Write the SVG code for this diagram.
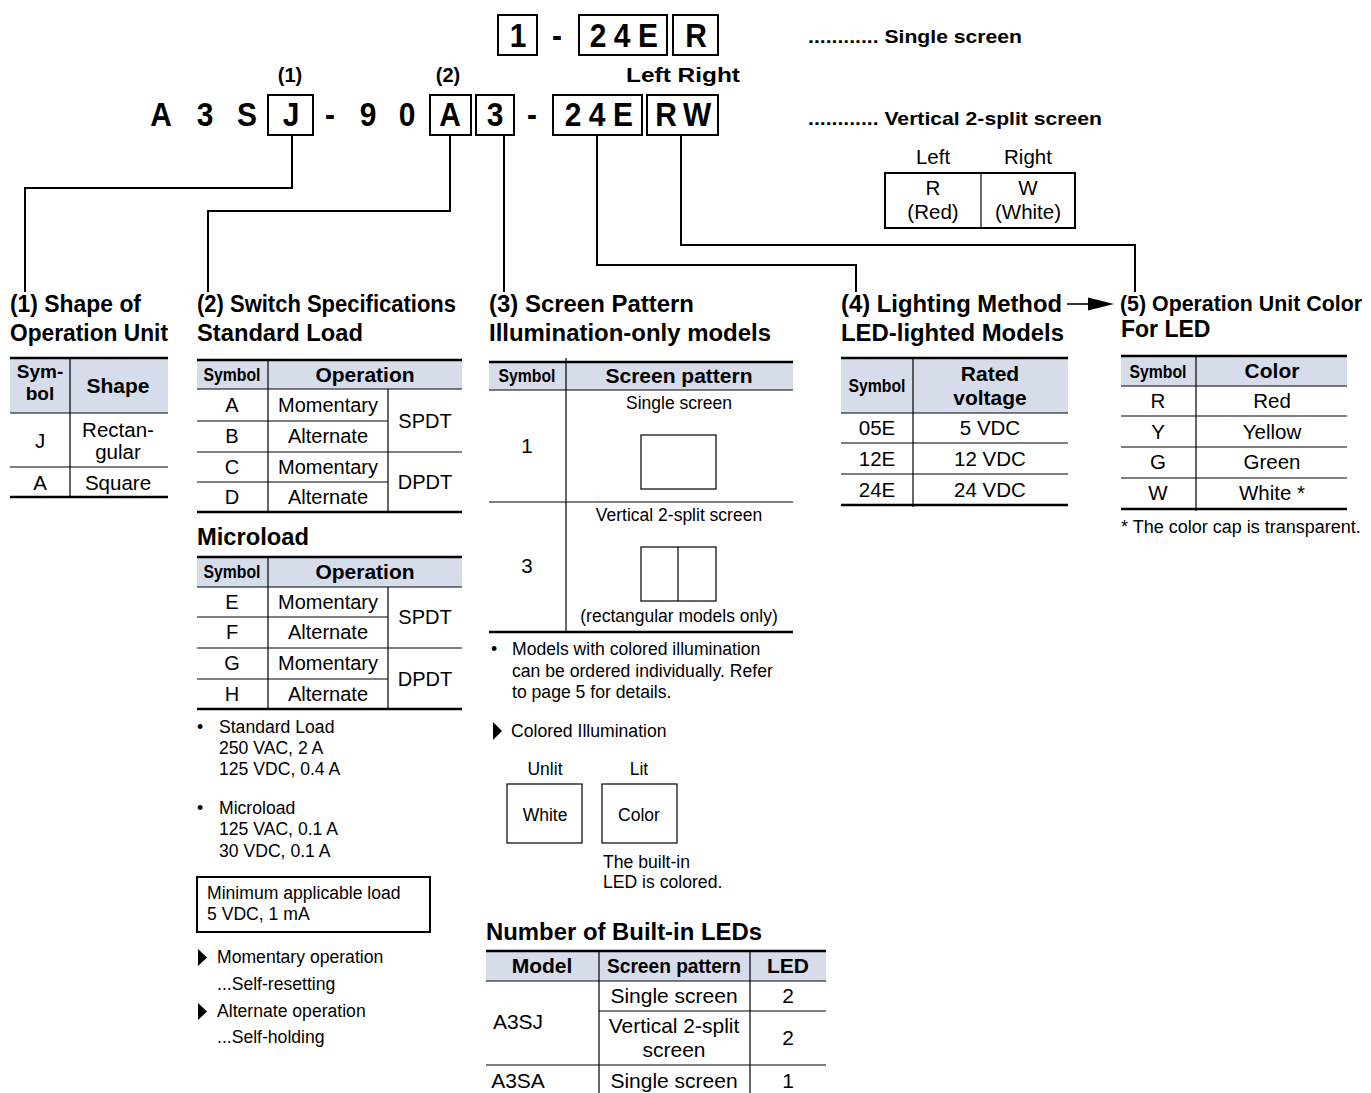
<svg xmlns="http://www.w3.org/2000/svg" width="1371" height="1093" viewBox="0 0 1371 1093">
<style>
text{font-family:"Liberation Sans",Arial,sans-serif;fill:#000}
.t{font-size:17.6px}
.b{font-weight:bold}
.h{font-size:23px;font-weight:bold}
.code{font-size:34px;font-weight:bold;text-anchor:middle}
.lab{font-size:20px;font-weight:bold;text-anchor:middle}
.nb{font-size:19px;font-weight:bold;text-anchor:middle}
.hb{font-size:21px;font-weight:bold;text-anchor:middle}
.box{fill:none;stroke:#000;stroke-width:2}
.thin{fill:none;stroke:#000;stroke-width:1.2}
.thick{stroke:#000;stroke-width:2.6}
.row{stroke:#000;stroke-width:1.2}
.hdr{fill:#d6dcea}
.con{fill:none;stroke:#000;stroke-width:2}
.t2{font-size:20px;text-anchor:middle}
.t4{font-size:20.5px;text-anchor:middle}
.t3{font-size:17.5px;text-anchor:middle}
.t6{font-size:21px;text-anchor:middle}
</style>

<g id="code-top">
<rect class="box" x="498" y="15" width="39" height="40"/>
<rect class="box" x="579" y="15" width="88" height="40"/>
<rect class="box" x="673" y="15" width="45" height="40"/>
<text class="code" transform="translate(518,47) scale(0.88,1)">1</text>
<text class="code" transform="translate(557,47) scale(0.88,1)">-</text>
<text class="code" transform="translate(598,47) scale(0.88,1)">2</text>
<text class="code" transform="translate(622,47) scale(0.88,1)">4</text>
<text class="code" transform="translate(648,47) scale(0.88,1)">E</text>
<text class="code" transform="translate(696,47) scale(0.88,1)">R</text>
<text class="b" x="808" y="43" style="font-size:19px" textLength="214" lengthAdjust="spacingAndGlyphs">............ Single screen</text>
</g>

<g id="code-main">
<text class="lab" x="290" y="82">(1)</text>
<text class="lab" x="448" y="82">(2)</text>
<text class="b" x="626" y="82" style="font-size:20px" textLength="114" lengthAdjust="spacingAndGlyphs">Left Right</text>
<text class="code" transform="translate(161,126) scale(0.88,1)">A</text>
<text class="code" transform="translate(205,126) scale(0.88,1)">3</text>
<text class="code" transform="translate(247,126) scale(0.88,1)">S</text>
<rect class="box" x="268" y="95" width="45" height="40"/>
<text class="code" transform="translate(291,126) scale(0.88,1)">J</text>
<text class="code" transform="translate(330,126) scale(0.88,1)">-</text>
<text class="code" transform="translate(368,126) scale(0.88,1)">9</text>
<text class="code" transform="translate(407,126) scale(0.88,1)">0</text>
<rect class="box" x="430" y="95" width="41" height="40"/>
<text class="code" transform="translate(450,126) scale(0.88,1)">A</text>
<rect class="box" x="476" y="95" width="38" height="40"/>
<text class="code" transform="translate(495,126) scale(0.88,1)">3</text>
<text class="code" transform="translate(532,126) scale(0.88,1)">-</text>
<rect class="box" x="553" y="95" width="89" height="40"/>
<text class="code" transform="translate(573,126) scale(0.88,1)">2</text>
<text class="code" transform="translate(597,126) scale(0.88,1)">4</text>
<text class="code" transform="translate(623,126) scale(0.88,1)">E</text>
<rect class="box" x="647" y="95" width="71" height="40"/>
<text class="code" transform="translate(666,126) scale(0.88,1)">R</text>
<text class="code" transform="translate(697,126) scale(0.88,1)">W</text>
<text class="b" x="808" y="125" style="font-size:19px" textLength="294" lengthAdjust="spacingAndGlyphs">............ Vertical 2-split screen</text>
</g>

<g id="left-right">
<text class="t4" x="933" y="164">Left</text>
<text class="t4" x="1028" y="164">Right</text>
<rect class="box" x="885" y="173" width="190" height="55"/>
<line class="row" x1="981" y1="173" x2="981" y2="228"/>
<text class="t4" x="933" y="195">R</text>
<text class="t4" x="933" y="219">(Red)</text>
<text class="t4" x="1028" y="195">W</text>
<text class="t4" x="1028" y="219">(White)</text>
</g>

<g id="connectors">
<polyline class="con" points="292,135 292,188 25,188 25,292"/>
<polyline class="con" points="450,135 450,211 208,211 208,292"/>
<polyline class="con" points="504,135 504,292"/>
<polyline class="con" points="597,135 597,265 856,265 856,292"/>
<polyline class="con" points="681,135 681,245 1135,245 1135,292"/>
<line x1="1067" y1="304" x2="1090" y2="304" stroke="#000" stroke-width="1.6"/>
<polygon points="1088,297.5 1114,304 1088,310.5" fill="#000"/>
</g>

<g id="sec1">
<text class="h" x="10" y="312" textLength="131" lengthAdjust="spacingAndGlyphs">(1) Shape of</text>
<text class="h" x="10" y="341" textLength="158" lengthAdjust="spacingAndGlyphs">Operation Unit</text>
<rect class="hdr" x="10" y="358" width="158" height="55"/>
<line class="thick" x1="10" y1="358" x2="168" y2="358"/>
<line class="row" x1="10" y1="413" x2="168" y2="413" stroke-width="1.6"/>
<line class="row" x1="10" y1="467" x2="168" y2="467"/>
<line class="thick" x1="10" y1="497" x2="168" y2="497"/>
<line class="row" x1="70" y1="358" x2="70" y2="497"/>
<text class="nb" x="40" y="378">Sym-</text>
<text class="nb" x="40" y="400">bol</text>
<text class="hb" x="118" y="393">Shape</text>
<text class="t4" x="40" y="448">J</text>
<text class="t4" x="118" y="437">Rectan-</text>
<text class="t4" x="118" y="459">gular</text>
<text class="t4" x="40" y="490">A</text>
<text class="t4" x="118" y="490">Square</text>
</g>

<g id="sec2">
<text class="h" x="197" y="312" textLength="259" lengthAdjust="spacingAndGlyphs">(2) Switch Specifications</text>
<text class="h" x="197" y="341" textLength="166" lengthAdjust="spacingAndGlyphs">Standard Load</text>
<rect class="hdr" x="197" y="360" width="265" height="29"/>
<line class="thick" x1="197" y1="360" x2="462" y2="360"/>
<line class="row" x1="197" y1="389" x2="462" y2="389" stroke-width="1.6"/>
<line class="row" x1="197" y1="421" x2="388" y2="421"/>
<line class="row" x1="197" y1="452" x2="462" y2="452"/>
<line class="row" x1="197" y1="482" x2="388" y2="482"/>
<line class="thick" x1="197" y1="512" x2="462" y2="512"/>
<line class="row" x1="268" y1="360" x2="268" y2="512"/>
<line class="row" x1="388" y1="389" x2="388" y2="512"/>
<text class="nb" x="232" y="381" textLength="57" lengthAdjust="spacingAndGlyphs">Symbol</text>
<text class="hb" x="365" y="382">Operation</text>
<text class="t2" x="232" y="412">A</text>
<text class="t2" x="328" y="412">Momentary</text>
<text class="t2" x="232" y="443">B</text>
<text class="t2" x="328" y="443">Alternate</text>
<text class="t2" x="232" y="474">C</text>
<text class="t2" x="328" y="474">Momentary</text>
<text class="t2" x="232" y="504">D</text>
<text class="t2" x="328" y="504">Alternate</text>
<text class="t2" x="425" y="428">SPDT</text>
<text class="t2" x="425" y="489">DPDT</text>

<text class="h" x="197" y="545" textLength="112" lengthAdjust="spacingAndGlyphs">Microload</text>
<rect class="hdr" x="197" y="557" width="265" height="30"/>
<line class="thick" x1="197" y1="557" x2="462" y2="557"/>
<line class="row" x1="197" y1="587" x2="462" y2="587" stroke-width="1.6"/>
<line class="row" x1="197" y1="617" x2="388" y2="617"/>
<line class="row" x1="197" y1="648" x2="462" y2="648"/>
<line class="row" x1="197" y1="679" x2="388" y2="679"/>
<line class="thick" x1="197" y1="709" x2="462" y2="709"/>
<line class="row" x1="268" y1="557" x2="268" y2="709"/>
<line class="row" x1="388" y1="587" x2="388" y2="709"/>
<text class="nb" x="232" y="578" textLength="57" lengthAdjust="spacingAndGlyphs">Symbol</text>
<text class="hb" x="365" y="579">Operation</text>
<text class="t2" x="232" y="609">E</text>
<text class="t2" x="328" y="609">Momentary</text>
<text class="t2" x="232" y="639">F</text>
<text class="t2" x="328" y="639">Alternate</text>
<text class="t2" x="232" y="670">G</text>
<text class="t2" x="328" y="670">Momentary</text>
<text class="t2" x="232" y="701">H</text>
<text class="t2" x="328" y="701">Alternate</text>
<text class="t2" x="425" y="624">SPDT</text>
<text class="t2" x="425" y="686">DPDT</text>

<text class="t" x="197" y="733">•</text>
<text class="t" x="219" y="733">Standard Load</text>
<text class="t" x="219" y="754">250 VAC, 2 A</text>
<text class="t" x="219" y="775">125 VDC, 0.4 A</text>
<text class="t" x="197" y="814">•</text>
<text class="t" x="219" y="814">Microload</text>
<text class="t" x="219" y="835">125 VAC, 0.1 A</text>
<text class="t" x="219" y="857">30 VDC, 0.1 A</text>
<rect class="box" x="197" y="877" width="233" height="55"/>
<text class="t" x="207" y="899">Minimum applicable load</text>
<text class="t" x="207" y="920">5 VDC, 1 mA</text>
<polygon points="198,949 207,957.5 198,966" fill="#000"/>
<text class="t" x="217" y="963">Momentary operation</text>
<text class="t" x="217" y="990">...Self-resetting</text>
<polygon points="198,1003 207,1011.5 198,1020" fill="#000"/>
<text class="t" x="217" y="1017">Alternate operation</text>
<text class="t" x="217" y="1043">...Self-holding</text>
</g>

<g id="sec3">
<text class="h" x="489" y="312" textLength="205" lengthAdjust="spacingAndGlyphs">(3) Screen Pattern</text>
<text class="h" x="489" y="341" textLength="282" lengthAdjust="spacingAndGlyphs">Illumination-only models</text>
<rect class="hdr" x="489" y="362" width="304" height="28"/>
<line class="thick" x1="489" y1="362" x2="793" y2="362"/>
<line class="row" x1="489" y1="390" x2="793" y2="390" stroke-width="1.6"/>
<line class="row" x1="489" y1="502" x2="793" y2="502"/>
<line class="thick" x1="489" y1="632" x2="793" y2="632"/>
<line class="row" x1="566" y1="358" x2="566" y2="632"/>
<text class="nb" x="527" y="382" textLength="57" lengthAdjust="spacingAndGlyphs">Symbol</text>
<text class="hb" x="679" y="383">Screen pattern</text>
<text class="t3" x="679" y="409">Single screen</text>
<text class="t4" x="527" y="453">1</text>
<rect class="thin" x="641" y="435" width="75" height="54"/>
<text class="t3" x="679" y="521">Vertical 2-split screen</text>
<text class="t4" x="527" y="573">3</text>
<rect class="thin" x="641" y="547" width="75" height="54"/>
<line class="row" x1="678" y1="547" x2="678" y2="601"/>
<text class="t3" x="679" y="622">(rectangular models only)</text>

<text class="t" x="491" y="655">•</text>
<text class="t" x="512" y="655">Models with colored illumination</text>
<text class="t" x="512" y="677">can be ordered individually. Refer</text>
<text class="t" x="512" y="698">to page 5 for details.</text>
<polygon points="493,722 502,731 493,740" fill="#000"/>
<text class="t" x="511" y="737">Colored Illumination</text>
<text class="t3" x="545" y="775">Unlit</text>
<text class="t3" x="639" y="775">Lit</text>
<rect class="thin" x="507" y="784" width="75" height="59"/>
<rect class="thin" x="602" y="784" width="75" height="59"/>
<text class="t3" x="545" y="821">White</text>
<text class="t3" x="639" y="821">Color</text>
<text class="t" x="603" y="868">The built-in</text>
<text class="t" x="603" y="888">LED is colored.</text>
</g>

<g id="leds">
<text class="h" x="486" y="940" textLength="276" lengthAdjust="spacingAndGlyphs">Number of Built-in LEDs</text>
<rect class="hdr" x="486" y="951" width="340" height="30"/>
<line class="thick" x1="486" y1="951" x2="826" y2="951"/>
<line class="row" x1="486" y1="981" x2="826" y2="981" stroke-width="1.8"/>
<line class="row" x1="599" y1="1011" x2="826" y2="1011"/>
<line class="row" x1="486" y1="1065" x2="826" y2="1065"/>
<line class="row" x1="599" y1="951" x2="599" y2="1093"/>
<line class="row" x1="750" y1="951" x2="750" y2="1093"/>
<text class="hb" x="542" y="973">Model</text>
<text class="hb" x="674" y="973" textLength="134" lengthAdjust="spacingAndGlyphs">Screen pattern</text>
<text class="hb" x="788" y="973">LED</text>
<text class="t6" x="518" y="1029">A3SJ</text>
<text class="t6" x="674" y="1003">Single screen</text>
<text class="t6" x="788" y="1003">2</text>
<text class="t6" x="674" y="1033">Vertical 2-split</text>
<text class="t6" x="674" y="1057">screen</text>
<text class="t6" x="788" y="1045">2</text>
<text class="t6" x="518" y="1088">A3SA</text>
<text class="t6" x="674" y="1088">Single screen</text>
<text class="t6" x="788" y="1088">1</text>
</g>

<g id="sec4">
<text class="h" x="841" y="312" textLength="221" lengthAdjust="spacingAndGlyphs">(4) Lighting Method</text>
<text class="h" x="841" y="341" textLength="223" lengthAdjust="spacingAndGlyphs">LED-lighted Models</text>
<rect class="hdr" x="841" y="358" width="227" height="55"/>
<line class="thick" x1="841" y1="358" x2="1068" y2="358"/>
<line class="row" x1="841" y1="413" x2="1068" y2="413" stroke-width="1.6"/>
<line class="row" x1="841" y1="443" x2="1068" y2="443"/>
<line class="row" x1="841" y1="474" x2="1068" y2="474"/>
<line class="thick" x1="841" y1="505" x2="1068" y2="505"/>
<line class="row" x1="913" y1="358" x2="913" y2="507"/>
<text class="nb" x="877" y="392" textLength="57" lengthAdjust="spacingAndGlyphs">Symbol</text>
<text class="hb" x="990" y="381">Rated</text>
<text class="hb" x="990" y="405">voltage</text>
<text class="t4" x="877" y="435">05E</text>
<text class="t4" x="990" y="435">5 VDC</text>
<text class="t4" x="877" y="466">12E</text>
<text class="t4" x="990" y="466">12 VDC</text>
<text class="t4" x="877" y="497">24E</text>
<text class="t4" x="990" y="497">24 VDC</text>
</g>

<g id="sec5">
<text class="h" x="1120" y="311" style="font-size:21.4px" textLength="242" lengthAdjust="spacingAndGlyphs">(5) Operation Unit Color</text>
<text class="h" x="1121" y="337">For LED</text>
<rect class="hdr" x="1121" y="356" width="226" height="30"/>
<line class="thick" x1="1121" y1="356" x2="1347" y2="356"/>
<line class="row" x1="1121" y1="386" x2="1347" y2="386" stroke-width="1.6"/>
<line class="row" x1="1121" y1="416" x2="1347" y2="416"/>
<line class="row" x1="1121" y1="447" x2="1347" y2="447"/>
<line class="row" x1="1121" y1="478" x2="1347" y2="478"/>
<line class="thick" x1="1121" y1="509" x2="1347" y2="509"/>
<line class="row" x1="1196" y1="356" x2="1196" y2="511"/>
<text class="nb" x="1158" y="378" textLength="57" lengthAdjust="spacingAndGlyphs">Symbol</text>
<text class="hb" x="1272" y="378">Color</text>
<text class="t4" x="1158" y="408">R</text>
<text class="t4" x="1272" y="408">Red</text>
<text class="t4" x="1158" y="439">Y</text>
<text class="t4" x="1272" y="439">Yellow</text>
<text class="t4" x="1158" y="469">G</text>
<text class="t4" x="1272" y="469">Green</text>
<text class="t4" x="1158" y="500">W</text>
<text class="t4" x="1272" y="500">White *</text>
<text class="t" x="1121" y="533" style="font-size:18px">* The color cap is transparent.</text>
</g>
</svg>
